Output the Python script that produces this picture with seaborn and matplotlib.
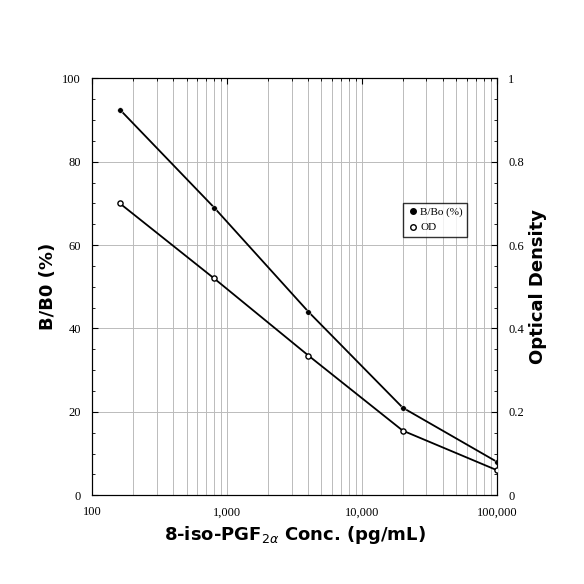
import numpy as np
import pandas as pd
import matplotlib
matplotlib.use('Agg')
import matplotlib.pyplot as plt
import seaborn as sns
from matplotlib.ticker import FixedLocator, MultipleLocator, LogLocator, NullFormatter
from matplotlib.lines import Line2D

conc = [160, 800, 4000, 20000, 100000]
bb0 = [92.5, 69, 44, 21, 8]
od = [0.70, 0.52, 0.335, 0.155, 0.06]

sns.set_style('white')
plt.rcParams['font.family'] = ['DejaVu Sans']
plt.rcParams['text.color'] = 'black'
plt.rcParams['axes.labelcolor'] = 'black'

fig, ax = plt.subplots(figsize=(5.84, 5.84), dpi=100)
fig.subplots_adjust(left=0.158, right=0.851, top=0.866, bottom=0.152)
ax2 = ax.twinx()

df = pd.DataFrame({'conc': conc, 'bb0': bb0, 'od': od})
sns.lineplot(data=df, x='conc', y='bb0', ax=ax, color='black', lw=1.3)
sns.lineplot(data=df, x='conc', y='od', ax=ax2, color='black', lw=1.3)
sns.scatterplot(data=df, x='conc', y='bb0', ax=ax, color='black', s=16, zorder=5)
sns.scatterplot(data=df, x='conc', y='od', ax=ax2, facecolor='white', edgecolor='black', s=14, linewidth=1, zorder=5)

ax.set_xscale('log')
ax.set_xlim(100, 100000)
ax.set_ylim(0, 100)
ax2.set_ylim(0, 1)
ax.xaxis.set_major_locator(FixedLocator([100, 1000, 10000, 100000]))
ax.set_xticklabels(['100', '1,000', '10,000', '100,000'], family='Liberation Serif', fontsize=9)
ax.xaxis.set_minor_locator(LogLocator(subs=np.arange(2, 10)))
ax.xaxis.set_minor_formatter(NullFormatter())
ax.set_yticks([0, 20, 40, 60, 80, 100])
ax.set_yticklabels(['0', '20', '40', '60', '80', '100'], family='Liberation Serif', fontsize=9)
ax.yaxis.set_minor_locator(MultipleLocator(5))
ax2.set_yticks([0, 0.2, 0.4, 0.6, 0.8, 1])
ax2.set_yticklabels(['0', '0.2', '0.4', '0.6', '0.8', '1'], family='Liberation Serif', fontsize=9)
ax2.yaxis.set_minor_locator(MultipleLocator(0.05))
for a in (ax, ax2):
    a.tick_params(which='both', direction='in', length=4, colors='black')
    a.tick_params(which='minor', length=2.5)
    a.tick_params(axis='y', pad=8)
    for s in a.spines.values():
        s.set_color('black')
ax.tick_params(axis='x', which='both', direction='in', top=True, pad=8)
ax.grid(True, which='both', axis='x', color='#bbbbbb', lw=0.7)
ax.grid(True, which='major', axis='y', color='#bbbbbb', lw=0.7)
ax.set_axisbelow(True)

ax.set_xlabel('8-iso-PGF$_{2\\alpha}$ Conc. (pg/mL)', fontsize=13, fontweight='bold', labelpad=4)
ax.set_ylabel('B/B0 (%)', fontsize=13, fontweight='bold')
ax2.set_ylabel('Optical Density', fontsize=13, fontweight='bold')

handles = [Line2D([], [], marker='o', ls='', color='black', markersize=4),
           Line2D([], [], marker='o', ls='', markerfacecolor='white', markeredgecolor='black', markersize=4)]
leg = ax2.legend(handles, ['B/Bo (%)', 'OD'], loc='upper left', bbox_to_anchor=(0.755, 0.715),
                 prop={'family': 'Liberation Serif', 'size': 8}, frameon=True, fancybox=False,
                 handletextpad=0.1, borderpad=0.4, labelspacing=0.5, handlelength=1)
leg.get_frame().set_edgecolor('black')

fig.savefig('out.png', dpi=100)
